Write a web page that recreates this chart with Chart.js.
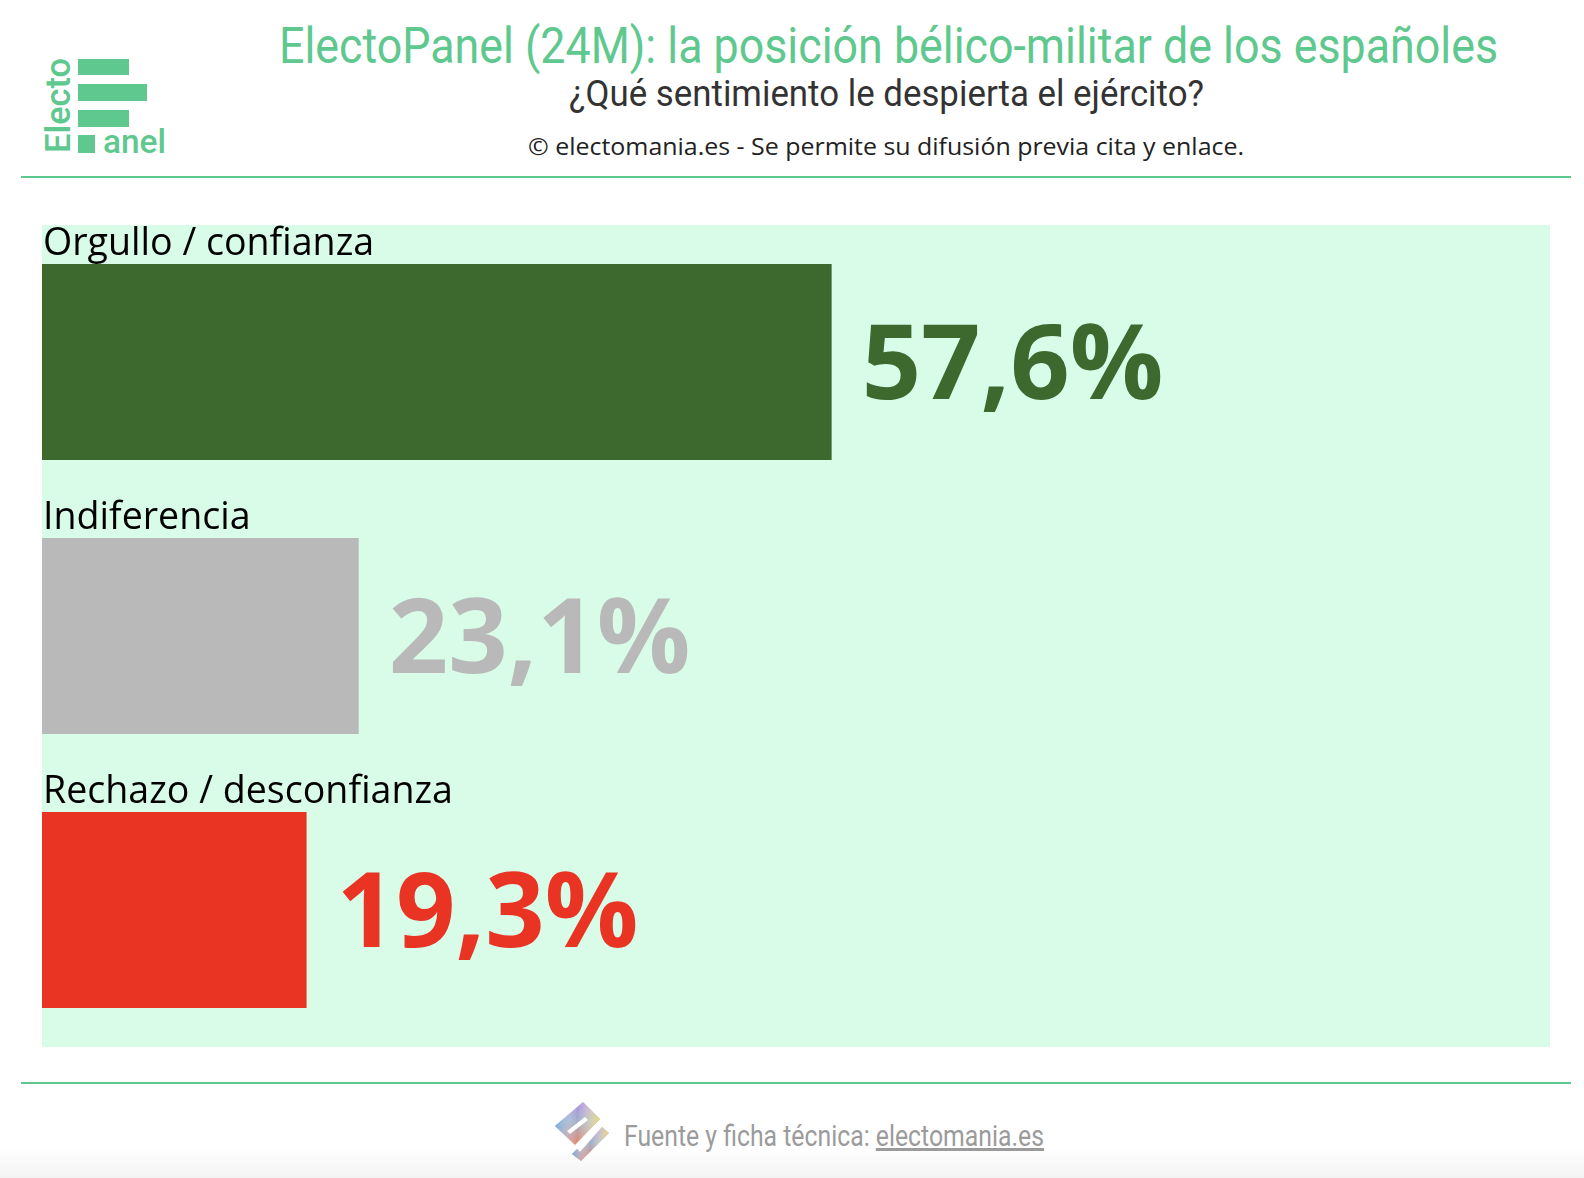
<!DOCTYPE html>
<html>
<head>
<meta charset="utf-8">
<script src="https://cdn.jsdelivr.net/npm/chart.js@4"></script>
<style>
  html, body { margin: 0; padding: 0; background: #fff; }
  body { width: 1584px; height: 1178px; position: relative; overflow: hidden; }
  #deco { position: absolute; left: 0; top: 0; }
  #panel { position: absolute; left: 42px; top: 225px; width: 1508px; height: 822px; background: #d9fce9; }
</style>
</head>
<body>
<svg id="deco" width="1584" height="1178" xmlns="http://www.w3.org/2000/svg">
  <defs>
    <linearGradient id="foot" x1="0" y1="0" x2="0" y2="1">
      <stop offset="0" stop-color="#ffffff"/>
      <stop offset="1" stop-color="#f3f3f3"/>
    </linearGradient>
    <linearGradient id="iconV" x1="0" y1="0" x2="0" y2="1">
      <stop offset="0" stop-color="#b08fe2"/>
      <stop offset="0.45" stop-color="#9fb0c8"/>
      <stop offset="1" stop-color="#e8836c"/>
    </linearGradient>
    <linearGradient id="iconH" x1="0" y1="0" x2="1" y2="0">
      <stop offset="0" stop-color="#6aa8e0" stop-opacity="0.9"/>
      <stop offset="0.5" stop-color="#ffffff" stop-opacity="0"/>
      <stop offset="1" stop-color="#f0dc70" stop-opacity="0.9"/>
    </linearGradient>
  </defs>
  <rect x="0" y="1148" width="1584" height="30" fill="url(#foot)"/>

  <!-- logo -->
  <g fill="#5ec88e">
    <rect x="78" y="59" width="51" height="16"/>
    <rect x="78" y="84" width="69" height="17"/>
    <rect x="78" y="110" width="51" height="17"/>
    <rect x="78" y="135" width="17" height="18"/>
    <text x="103" y="153" font-family="Roboto" font-weight="500" font-size="34" textLength="63" lengthAdjust="spacingAndGlyphs">anel</text>
    <text transform="translate(70,153) rotate(-90)" font-family="Roboto" font-weight="500" font-size="35" textLength="95" lengthAdjust="spacingAndGlyphs">Electo</text>
  </g>

  <!-- header -->
  <text x="279" y="63" font-family="Roboto" font-size="50" fill="#5ec88e" textLength="1219" lengthAdjust="spacingAndGlyphs">ElectoPanel (24M): la posición bélico-militar de los españoles</text>
  <text x="569" y="106" font-family="Roboto" font-size="37" fill="#333333" textLength="635" lengthAdjust="spacingAndGlyphs">¿Qué sentimiento le despierta el ejército?</text>
  <text x="528" y="155" font-family="Open Sans" font-size="24" fill="#222222" textLength="716" lengthAdjust="spacingAndGlyphs">© electomania.es - Se permite su difusión previa cita y enlace.</text>
  <line x1="21" y1="177" x2="1571" y2="177" stroke="#5ec88e" stroke-width="2"/>

  <!-- footer -->
  <line x1="21" y1="1083" x2="1571" y2="1083" stroke="#5ec88e" stroke-width="2"/>
  <g>
    <polygon points="583,1102 600,1119 575,1145 555,1126" fill="url(#iconV)"/>
    <polygon points="602,1127 609,1133 581,1161 572,1154 577,1149 580,1152" fill="url(#iconV)"/>
    <polygon points="583,1102 600,1119 575,1145 555,1126" fill="url(#iconH)"/>
    <polygon points="602,1127 609,1133 581,1161 572,1154 577,1149 580,1152" fill="url(#iconH)"/>
  </g>
  <polygon points="567,1131 585,1117 588,1120 570,1134" fill="#ffffff"/>
  <text x="624" y="1146" font-family="Roboto" font-size="30" fill="#9b9b9b" textLength="420" lengthAdjust="spacingAndGlyphs">Fuente y ficha técnica: <tspan text-decoration="underline">electomania.es</tspan></text>
</svg>

<div id="panel"><canvas id="chart"></canvas></div>

<script>
const categories = ['Orgullo / confianza', 'Indiferencia', 'Rechazo / desconfianza'];
const values = [57.6, 23.1, 19.3];
const barColors = ['#3d692f', '#b9b9b9', '#e93424'];
const xMax = 110;

const labelPlugin = {
  id: 'labels',
  afterDatasetsDraw(chart) {
    const ctx = chart.ctx;
    const meta = chart.getDatasetMeta(0);
    ctx.save();
    meta.data.forEach((bar, i) => {
      const top = bar.y - bar.height / 2;
      ctx.textAlign = 'left';
      ctx.textBaseline = 'alphabetic';
      ctx.fillStyle = '#000';
      ctx.font = '37.6px "Open Sans"';
      ctx.fillText(categories[i], chart.chartArea.left + 1, top - 9);

      ctx.fillStyle = barColors[i];
      ctx.font = 'bold 104px "Open Sans"';
      const txt = values[i].toFixed(1).replace('.', ',') + '%';
      ctx.fillText(txt, bar.x + 30, bar.y + 37);
    });
    ctx.restore();
  }
};

new Chart(document.getElementById('chart'), {
  type: 'bar',
  data: {
    labels: categories,
    datasets: [{
      data: values,
      backgroundColor: barColors,
      borderWidth: 0,
      barPercentage: 0.715,
      categoryPercentage: 1
    }]
  },
  options: {
    indexAxis: 'y',
    responsive: true,
    maintainAspectRatio: false,
    animation: false,
    layout: { padding: 0 },
    plugins: { legend: { display: false }, tooltip: { enabled: false } },
    scales: {
      x: { display: false, min: 0, max: xMax },
      y: { display: false }
    }
  },
  plugins: [labelPlugin]
});
</script>
</body>
</html>
